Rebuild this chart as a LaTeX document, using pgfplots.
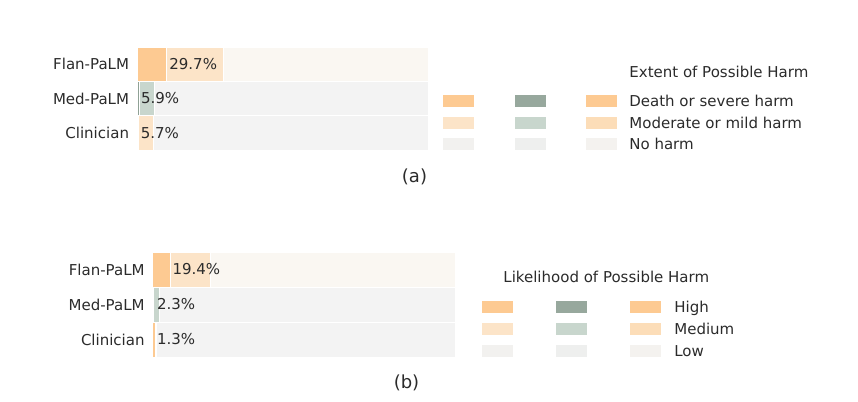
\documentclass[border=0pt]{standalone}
\usepackage{pgfplots}
\pgfplotsset{compat=1.18}
\usepackage{fontspec}
\setmainfont{DejaVu Sans}
\definecolor{txt}{HTML}{2B2B2B}
\definecolor{oD}{HTML}{FDCA92}
\definecolor{oL}{HTML}{FCE4C8}
\definecolor{oM}{HTML}{FCDDB8}
\definecolor{fN}{HTML}{FAF7F2}
\definecolor{gN}{HTML}{F3F3F3}
\definecolor{gD}{HTML}{8FA195}
\definecolor{gDL}{HTML}{97A89D}
\definecolor{gL}{HTML}{C8D6CD}
\definecolor{lN1}{HTML}{F2F1EF}
\definecolor{lN2}{HTML}{EEEFEE}
\definecolor{lN3}{HTML}{F4F2EF}
\pgfplotsset{
  panel/.style={
    scale only axis, anchor=south west,
    xmin=0, xmax=100, ymin=-0.5, ymax=2.5, y dir=reverse,
    enlargelimits=false, clip=false,
    axis line style={draw=none}, xtick=\empty,
    ytick={0,1,2}, yticklabels={Flan-PaLM,Med-PaLM,Clinician},
    major tick length=0pt,
    yticklabel style={font=\fontsize{7.5pt}{9pt}\selectfont, text=txt, anchor=east, inner sep=0pt},
    xbar, bar shift=0pt, bar width=1,
    every axis plot/.append style={draw=white, line width=0.5pt, forget plot},
    legend columns=3, legend cell align=left,
  },
  sw/.style={legend image code/.code={\fill[#1] (0pt,-2pt) rectangle (15pt,3.5pt);}},
}
\begin{document}
\begin{tikzpicture}
\fontsize{7.5pt}{9pt}\selectfont
\path[use as bounding box] (0,0) rectangle (429pt,-201pt);
% ---------------- (a) ----------------
\begin{axis}[panel, at={(68.5pt,-75pt)}, width=145.5pt, height=51.5pt,
  yticklabel style={xshift=-3.8pt},
  legend style={draw=none, fill=none, inner sep=0pt, at={(1.0515,0.536)}, anchor=north west,
    font=\fontsize{7.5pt}{9pt}\selectfont, text=txt,
    nodes={inner sep=0pt, text height=5.5pt, text depth=1.5pt}, row sep=3.45pt,
    /tikz/every odd column/.style={column sep=6pt},
    /tikz/every even column/.style={column sep=13.25pt}}]
% no harm (full bars)
\addplot[fill=fN] coordinates {(100,0)};
\addplot[fill=gN] coordinates {(100,1)};
\addplot[fill=gN] coordinates {(100,2)};
% moderate or mild harm (cumulative totals)
\addplot[fill=oL] coordinates {(29.7,0)};
\addplot[fill=gL] coordinates {(5.9,1)};
\addplot[fill=oL] coordinates {(5.7,2)};
% death or severe harm
\addplot[fill=oD] coordinates {(10.3,0)};
\addplot[fill=gD, line width=0.2pt] coordinates {(0.6,1)};
\addplot[fill=oD, line width=0.2pt] coordinates {(0.5,2)};
\node[anchor=west, inner sep=1pt, text=txt] at (axis cs:10.3,0) {29.7\%};
\node[anchor=west, inner sep=1pt, text=txt] at (axis cs:0.6,1) {5.9\%};
\node[anchor=west, inner sep=1pt, text=txt] at (axis cs:0.5,2) {5.7\%};
\addlegendimage{sw=oD}\addlegendentry{}
\addlegendimage{sw=gDL}\addlegendentry{}
\addlegendimage{sw=oD}\addlegendentry{Death or severe harm}
\addlegendimage{sw=oL}\addlegendentry{}
\addlegendimage{sw=gL}\addlegendentry{}
\addlegendimage{sw=oM}\addlegendentry{Moderate or mild harm}
\addlegendimage{sw=lN1}\addlegendentry{}
\addlegendimage{sw=lN2}\addlegendentry{}
\addlegendimage{sw=lN3}\addlegendentry{No harm}
\end{axis}
\node[anchor=base west, inner sep=0pt, text=txt] at (314.5pt,-38.6pt) {Extent of Possible Harm};
\node[inner sep=0pt, text=txt, font=\fontsize{9pt}{11pt}\selectfont] at (207.25pt,-88.5pt) {(a)};
% ---------------- (b) ----------------
\begin{axis}[panel, at={(76pt,-178.5pt)}, width=151.5pt, height=52.5pt,
  yticklabel style={xshift=-3.5pt},
  legend style={draw=none, fill=none, inner sep=0pt, at={(1.089,0.538)}, anchor=north west,
    font=\fontsize{7.5pt}{9pt}\selectfont, text=txt,
    nodes={inner sep=0pt, text height=5.5pt, text depth=1.5pt}, row sep=3.75pt,
    /tikz/every odd column/.style={column sep=6.5pt},
    /tikz/every even column/.style={column sep=14pt}}]
% low
\addplot[fill=fN] coordinates {(100,0)};
\addplot[fill=gN] coordinates {(100,1)};
\addplot[fill=gN] coordinates {(100,2)};
% medium (cumulative totals)
\addplot[fill=oL] coordinates {(19.4,0)};
\addplot[fill=gL, line width=0.2pt] coordinates {(2.3,1)};
\addplot[fill=oL, line width=0.2pt] coordinates {(1.3,2)};
% high
\addplot[fill=oD] coordinates {(6.0,0)};
\addplot[fill=gD, line width=0.2pt] coordinates {(0.5,1)};
\addplot[fill=oD, line width=0.2pt] coordinates {(0.9,2)};
\node[anchor=west, inner sep=1pt, text=txt] at (axis cs:6.0,0) {19.4\%};
\node[anchor=west, inner sep=1pt, text=txt] at (axis cs:0.9,1) {2.3\%};
\node[anchor=west, inner sep=1pt, text=txt] at (axis cs:0.9,2) {1.3\%};
\addlegendimage{sw=oD}\addlegendentry{}
\addlegendimage{sw=gDL}\addlegendentry{}
\addlegendimage{sw=oD}\addlegendentry{High}
\addlegendimage{sw=oL}\addlegendentry{}
\addlegendimage{sw=gL}\addlegendentry{}
\addlegendimage{sw=oM}\addlegendentry{Medium}
\addlegendimage{sw=lN1}\addlegendentry{}
\addlegendimage{sw=lN2}\addlegendentry{}
\addlegendimage{sw=lN3}\addlegendentry{Low}
\end{axis}
\node[anchor=base west, inner sep=0pt, text=txt] at (251.5pt,-141.25pt) {Likelihood of Possible Harm};
\node[inner sep=0pt, text=txt, font=\fontsize{9pt}{11pt}\selectfont] at (203.25pt,-191.5pt) {(b)};
\end{tikzpicture}
\end{document}
